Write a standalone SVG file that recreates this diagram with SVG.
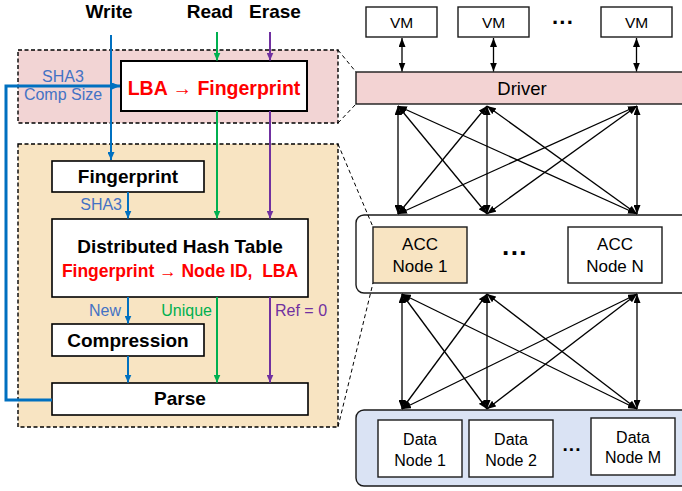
<svg xmlns="http://www.w3.org/2000/svg" width="682" height="491" viewBox="0 0 682 491">
  <style>
    text { font-family: "Liberation Sans", Arial, sans-serif; }
    .op { font-size: 19px; font-weight: bold; fill: #000; text-anchor: middle; }
    .big { font-size: 19px; font-weight: bold; text-anchor: middle; }
    .red { fill: #FF0000; }
    .lbl { font-size: 16px; }
    .tblue { fill: #4472C4; }
    .tgreen { fill: #00B050; }
    .tpurple { fill: #7030A0; }
    .node { font-size: 16px; fill: #000; text-anchor: middle; }
    .vm { font-size: 15.5px; }
    .acc { font-size: 17px; }
    .dots { font-size: 22px; font-weight: bold; fill: #000; text-anchor: middle; }
    .box { fill: #FFFFFF; stroke: #000; stroke-width: 1.6; }
    .rbox { fill: #FFFFFF; stroke: #1a1a1a; stroke-width: 1.4; }
    .zone { stroke: #000; stroke-width: 1.4; stroke-dasharray: 4 2.5; }
    .zoom { fill: none; stroke: #000; stroke-width: 1; stroke-dasharray: 4 3; }
    .wblue { fill: none; stroke: #0070C0; stroke-width: 2; }
    .wgreen { fill: none; stroke: #00B050; stroke-width: 2; }
    .wpurple { fill: none; stroke: #7030A0; stroke-width: 2; }
    .link { fill: none; stroke: #000; stroke-width: 1.3; marker-start: url(#dh); marker-end: url(#dh); }
  </style>
  <defs>
    <marker id="ab" viewBox="0 0 8 7" refX="8" refY="3.5" markerWidth="8" markerHeight="7" markerUnits="userSpaceOnUse" orient="auto">
      <path d="M0,0 L8,3.5 L0,7 z" fill="#0070C0"/>
    </marker>
    <marker id="ag" viewBox="0 0 8 7" refX="8" refY="3.5" markerWidth="8" markerHeight="7" markerUnits="userSpaceOnUse" orient="auto">
      <path d="M0,0 L8,3.5 L0,7 z" fill="#00B050"/>
    </marker>
    <marker id="ap" viewBox="0 0 8 7" refX="8" refY="3.5" markerWidth="8" markerHeight="7" markerUnits="userSpaceOnUse" orient="auto">
      <path d="M0,0 L8,3.5 L0,7 z" fill="#7030A0"/>
    </marker>
    <marker id="dh" viewBox="0 0 9 7" refX="9" refY="3.5" markerWidth="9" markerHeight="7" markerUnits="userSpaceOnUse" orient="auto-start-reverse">
      <path d="M0,0 L9,3.5 L0,7 z" fill="#000"/>
    </marker>
  </defs>

  <!-- zone backgrounds -->
  <g id="host-zone">
    <rect class="zone" x="18" y="50" width="320" height="73" fill="#F2D4D4"/>
  </g>
  <g id="acc-zone">
    <rect class="zone" x="18" y="144" width="320" height="283" fill="#F8E4C2"/>
  </g>

  <!-- operation labels -->
  <g id="op-write"><text class="op" x="109" y="18">Write</text></g>
  <g id="op-read"><text class="op" x="210" y="18">Read</text></g>
  <g id="op-erase"><text class="op" x="275" y="18">Erase</text></g>

  <!-- pipeline stages -->
  <g id="lba-map">
    <rect class="box" x="121" y="61" width="186" height="50" style="stroke-width:2"/>
    <text class="big red" x="214" y="95" style="font-size:19.5px">LBA → Fingerprint</text>
  </g>
  <g id="fingerprint">
    <rect class="box" x="52" y="161" width="152" height="31"/>
    <text class="big" x="128" y="183">Fingerprint</text>
  </g>
  <g id="dht">
    <rect class="box" x="52" y="219" width="256" height="78"/>
    <text class="big" x="180" y="253">Distributed Hash Table</text>
    <text class="big red" x="180" y="277" style="font-size:17.5px;white-space:pre">Fingerprint → Node ID,  LBA</text>
  </g>
  <g id="compression">
    <rect class="box" x="52" y="324" width="152" height="32"/>
    <text class="big" x="128" y="347">Compression</text>
  </g>
  <g id="parse">
    <rect class="box" x="52" y="383" width="256" height="32"/>
    <text class="big" x="180" y="405">Parse</text>
  </g>

  <!-- system side -->
  <g id="vm-1">
    <rect class="rbox" x="366" y="7" width="71" height="30"/>
    <text class="node vm" x="401.5" y="28">VM</text>
  </g>
  <g id="vm-2">
    <rect class="rbox" x="458" y="7" width="71" height="30"/>
    <text class="node vm" x="493.5" y="28">VM</text>
  </g>
  <text class="dots" x="563" y="30">···</text>
  <g id="vm-n">
    <rect class="rbox" x="601" y="7" width="71" height="30"/>
    <text class="node vm" x="636.5" y="28">VM</text>
  </g>
  <g id="driver">
    <rect class="rbox" x="356" y="72" width="340" height="32" style="fill:#F3D3D3"/>
    <text class="node" x="522" y="95" style="font-size:18.5px">Driver</text>
  </g>
  <g id="acc-layer">
    <rect class="rbox" x="356" y="215" width="340" height="78" rx="8"/>
  </g>
  <g id="acc-node-1">
    <rect class="rbox" x="373" y="227" width="94" height="56" style="fill:#F8E4C2"/>
    <text class="node acc" x="420" y="250">ACC</text>
    <text class="node acc" x="420" y="272">Node 1</text>
  </g>
  <text class="dots" x="515" y="262" style="font-size:26px">···</text>
  <g id="acc-node-n">
    <rect class="rbox" x="568" y="227" width="94" height="56"/>
    <text class="node acc" x="615" y="250">ACC</text>
    <text class="node acc" x="615" y="272">Node N</text>
  </g>
  <g id="data-layer">
    <rect class="rbox" x="356" y="410" width="340" height="76" rx="8" style="fill:#DAE3F4"/>
  </g>
  <g id="data-node-1">
    <rect class="rbox" x="378" y="420" width="84" height="57"/>
    <text class="node" x="420" y="445">Data</text>
    <text class="node" x="420" y="466">Node 1</text>
  </g>
  <g id="data-node-2">
    <rect class="rbox" x="469" y="420" width="84" height="57"/>
    <text class="node" x="511" y="445">Data</text>
    <text class="node" x="511" y="466">Node 2</text>
  </g>
  <text class="dots" x="572" y="456" style="font-size:19px">···</text>
  <g id="data-node-m">
    <rect class="rbox" x="591" y="418" width="84" height="57"/>
    <text class="node" x="633" y="443">Data</text>
    <text class="node" x="633" y="463">Node M</text>
  </g>

  <!-- connectors -->
  <g id="connectors">
    <!-- write path -->
    <line class="wblue" x1="111" y1="35" x2="111" y2="160" marker-end="url(#ab)"/>
    <line class="wblue" x1="128" y1="192" x2="128" y2="218.5" marker-end="url(#ab)"/>
    <line class="wblue" x1="128" y1="297" x2="128" y2="323.5" marker-end="url(#ab)"/>
    <line class="wblue" x1="128" y1="356" x2="128" y2="382.5" marker-end="url(#ab)"/>
    <polyline class="wblue" points="52,400 6,400 6,86 120,86" style="stroke-width:3" marker-end="url(#ab)"/>
    <!-- read path -->
    <line class="wgreen" x1="217" y1="32" x2="217" y2="60.5" marker-end="url(#ag)"/>
    <line class="wgreen" x1="217" y1="111" x2="217" y2="218.5" marker-end="url(#ag)"/>
    <line class="wgreen" x1="217" y1="297" x2="217" y2="382.5" marker-end="url(#ag)"/>
    <!-- erase path -->
    <line class="wpurple" x1="270" y1="32" x2="270" y2="60.5" marker-end="url(#ap)"/>
    <line class="wpurple" x1="270" y1="111" x2="270" y2="218.5" marker-end="url(#ap)"/>
    <line class="wpurple" x1="270" y1="297" x2="270" y2="382.5" marker-end="url(#ap)"/>

    <!-- path labels -->
    <text class="lbl tblue" x="63" y="82" text-anchor="middle">SHA3</text>
    <text class="lbl tblue" x="63" y="100" text-anchor="middle">Comp Size</text>
    <text class="lbl tblue" x="122" y="210" text-anchor="end">SHA3</text>
    <text class="lbl tblue" x="121" y="316" text-anchor="end">New</text>
    <text class="lbl tgreen" x="212" y="316" text-anchor="end">Unique</text>
    <text class="lbl tpurple" x="275" y="316">Ref = 0</text>

    <!-- zoom guides -->
    <line class="zoom" x1="338" y1="50" x2="356" y2="72"/>
    <line class="zoom" x1="338" y1="123" x2="356" y2="104"/>
    <line class="zoom" x1="338" y1="144" x2="373" y2="227"/>
    <line class="zoom" x1="338" y1="427" x2="373" y2="283"/>

    <!-- VM to driver -->
    <line class="link" x1="402" y1="38" x2="402" y2="71.5"/>
    <line class="link" x1="493.5" y1="38" x2="493.5" y2="71.5"/>
    <line class="link" x1="636.5" y1="38" x2="636.5" y2="71.5"/>

    <!-- driver to ACC nodes -->
    <line class="link" x1="398" y1="106" x2="398" y2="214"/>
    <line class="link" x1="398" y1="106" x2="487" y2="214"/>
    <line class="link" x1="398" y1="106" x2="637" y2="214"/>
    <line class="link" x1="487" y1="106" x2="398" y2="214"/>
    <line class="link" x1="487" y1="106" x2="487" y2="214"/>
    <line class="link" x1="487" y1="106" x2="637" y2="214"/>
    <line class="link" x1="637" y1="106" x2="398" y2="214"/>
    <line class="link" x1="637" y1="106" x2="487" y2="214"/>
    <line class="link" x1="637" y1="106" x2="637" y2="214"/>

    <!-- ACC nodes to data nodes -->
    <line class="link" x1="402" y1="294" x2="402" y2="409"/>
    <line class="link" x1="402" y1="294" x2="487" y2="409"/>
    <line class="link" x1="402" y1="294" x2="637" y2="409"/>
    <line class="link" x1="487" y1="294" x2="402" y2="409"/>
    <line class="link" x1="487" y1="294" x2="487" y2="409"/>
    <line class="link" x1="487" y1="294" x2="637" y2="409"/>
    <line class="link" x1="637" y1="294" x2="402" y2="409"/>
    <line class="link" x1="637" y1="294" x2="487" y2="409"/>
    <line class="link" x1="637" y1="294" x2="637" y2="409"/>
  </g>
</svg>
